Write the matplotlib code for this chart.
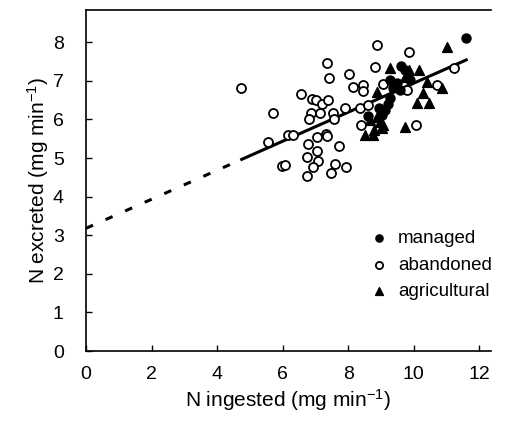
import numpy as np
import matplotlib
matplotlib.use("Agg")
import matplotlib.pyplot as plt

plt.rcParams['font.family'] = ['Liberation Sans', 'DejaVu Sans']
plt.rcParams['mathtext.default'] = 'regular'

# abandoned sites (open circles)
aband_x = [4.73, 5.55, 5.70, 5.98, 6.08, 6.16, 6.31, 6.55, 6.89, 7.01, 7.20, 7.38,
           7.35, 7.41, 6.86, 6.80, 7.13, 7.53, 7.56, 7.04, 7.32, 7.35, 6.77, 7.04,
           6.74, 7.07, 6.92, 6.74, 7.47, 7.59, 7.71, 7.93, 8.87, 9.85, 8.02, 8.81,
           8.14, 8.45, 8.44, 9.05, 7.90, 8.35, 8.60, 8.38, 10.06, 10.70, 11.22, 9.79]
aband_y = [6.81, 5.41, 6.17, 4.80, 4.82, 5.60, 5.60, 6.66, 6.53, 6.50, 6.40, 6.50,
           7.46, 7.07, 6.17, 6.01, 6.17, 6.17, 6.01, 5.54, 5.62, 5.57, 5.36, 5.18,
           5.03, 4.92, 4.77, 4.53, 4.61, 4.84, 5.31, 4.77, 7.93, 7.75, 7.18, 7.36,
           6.84, 6.89, 6.74, 6.92, 6.30, 6.30, 6.37, 5.85, 5.85, 6.89, 7.33, 6.76]

# managed sites (filled circles)
man_x = [11.59, 9.60, 9.73, 9.88, 9.57, 9.36, 9.27, 9.12, 9.02, 9.20, 8.60, 9.27, 9.50, 8.95]
man_y = [8.11, 7.38, 7.28, 7.02, 6.76, 6.81, 6.55, 6.24, 6.11, 6.40, 6.10, 7.02, 6.95, 6.30]

# agricultural sites (triangles)
agr_x = [11.00, 9.27, 9.85, 10.15, 10.40, 10.85, 10.27, 10.09, 10.46, 9.73, 9.02,
         8.50, 8.75, 8.96, 8.87, 9.48, 9.73, 8.87, 8.66, 9.05, 8.80]
agr_y = [7.88, 7.33, 7.28, 7.28, 6.97, 6.81, 6.68, 6.42, 6.43, 5.80, 5.78,
         5.60, 5.60, 5.93, 6.71, 6.89, 7.10, 6.06, 5.98, 5.85, 5.72]

# regression line: N excreted = a + b * N ingested
fit_a = 3.18
fit_b = 0.376
fit_start, fit_split, fit_end = 0.0, 4.75, 11.6

fig = plt.figure(figsize=(5.06, 4.25), dpi=100)
ax = fig.add_axes([0.170, 0.174, 0.80, 0.802])

xd = np.array([fit_start, fit_split])
ax.plot(xd, fit_a + fit_b * xd, color='black', lw=2.2, dashes=(2.5, 4.5), zorder=2)
xs = np.array([fit_split, fit_end])
ax.plot(xs, fit_a + fit_b * xs, color='black', lw=2.2, zorder=2)

ax.scatter(aband_x, aband_y, s=42, facecolors='white', edgecolors='black',
           linewidths=1.3, zorder=3, label='abandoned')
ax.scatter(man_x, man_y, s=42, color='black', zorder=4, label='managed')
ax.scatter(agr_x, agr_y, s=50, marker='^', color='black', zorder=4, label='agricultural')

ax.set_xlim(0, 12.35)
ax.set_ylim(0, 8.83)
ax.set_xticks(range(0, 13, 2))
ax.set_yticks(range(0, 9))
ax.tick_params(direction='in', length=4, width=1, labelsize=14)
ax.tick_params(axis='y', pad=16)
ax.tick_params(axis='x', pad=11)
ax.spines['right'].set_visible(False)
for s in ['left', 'bottom', 'top']:
    ax.spines[s].set_linewidth(1.2)

ax.set_xlabel('N ingested (mg min$^{-1}$)', fontsize=15, labelpad=3)
ax.set_ylabel('N excreted (mg min$^{-1}$)', fontsize=15, labelpad=1)

h, l = ax.get_legend_handles_labels()
order = [1, 0, 2]
leg = ax.legend([h[i] for i in order], [l[i] for i in order], loc='lower right',
                bbox_to_anchor=(1.045, 0.10), frameon=False, fontsize=13.5,
                handletextpad=0.05, labelspacing=0.5, markerscale=0.8)

fig.savefig('out.png', dpi=100)
